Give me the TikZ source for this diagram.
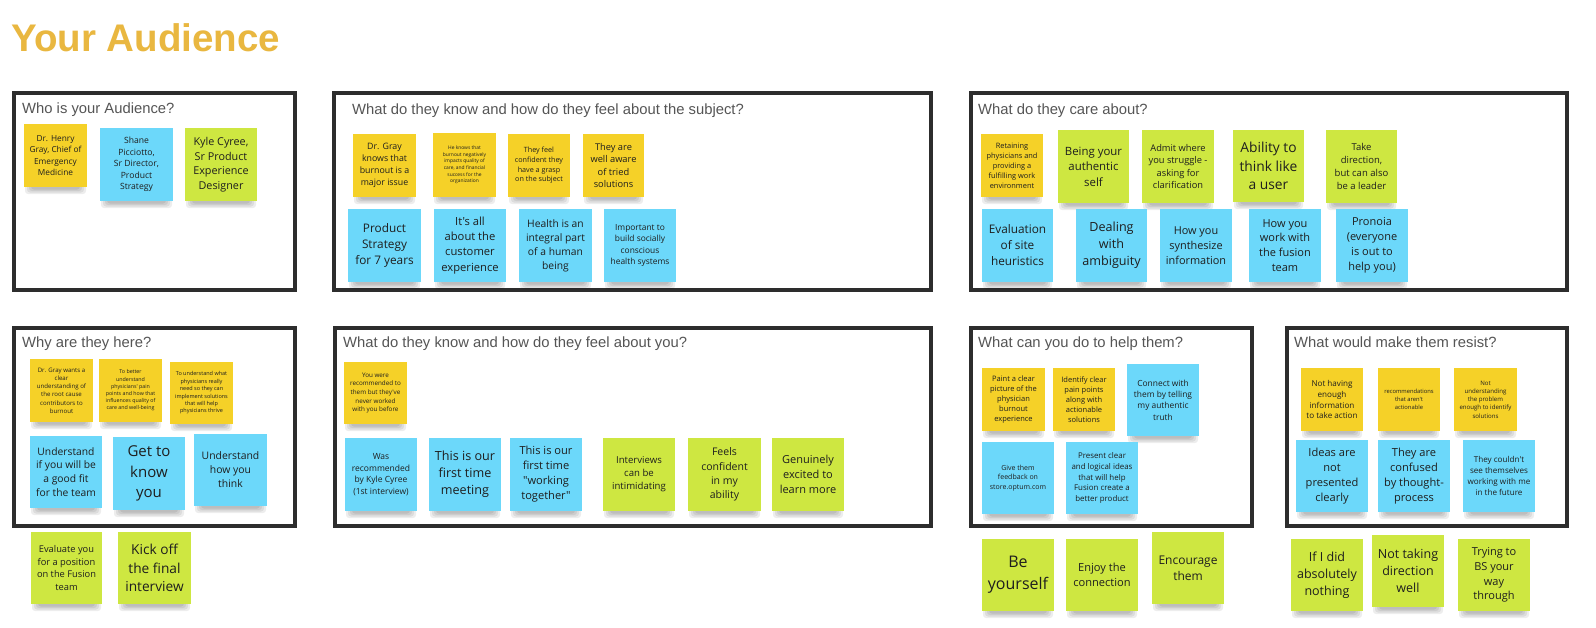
\documentclass[tikz,border=0pt]{standalone}
\usepackage{fontspec}
\setmainfont{Open Sans}[Ligatures=TeXOff]
\newfontfamily\ttlfont{Liberation Sans}
\definecolor{stY}{RGB}{245,209,40}
\definecolor{stB}{RGB}{108,216,250}
\definecolor{stG}{RGB}{206,231,65}
\definecolor{txtC}{RGB}{30,30,30}
\definecolor{frameC}{RGB}{45,45,45}
\definecolor{ftitleC}{RGB}{85,85,85}
\definecolor{mainC}{RGB}{233,183,64}
\newcommand\sfs[1]{\fontsize{#1}{\dimexpr#1pt*135/100\relax}\selectfont}
\tikzset{
  stk/.style={draw=none, inner sep=0pt, outer sep=0pt, align=center, text=txtC},
  frm/.style={draw=frameC, line width=3.2pt, inner sep=0pt, fill=none},
  ftitle/.style={anchor=base west, inner sep=0pt, text=ftitleC, font=\ttlfont\fontsize{14.8}{17}\selectfont},
}
% name, colour, x, y, w, h, font size, text
\newcommand\stk[8]{%
  \foreach \k in {0,1,2,3}{\fill[black, opacity=0.07, rounded corners=3] (#3+7-2*\k, #4+#6-8) rectangle (#3+#5-7+2*\k, #4+#6+2.5+1.5*\k);}
  \node[stk, fill=#2, minimum width=#5, minimum height=#6, font=\sfs{#7}] (#1) at (#3+#5/2, #4+#6/2) {#8};}
\begin{document}
\begin{tikzpicture}[x=1pt, y=-1pt]
\fill[white] (0,0) rectangle (1596,627);
\useasboundingbox (0,0) rectangle (1596,627);
\node[anchor=base west, inner sep=0pt, text=mainC, font=\ttlfont\bfseries\fontsize{38.5}{41}\selectfont] (title) at (11,51) {Your Audience};
% frames
\node[frm, minimum width=281, minimum height=197, anchor=center] (f1) at (14+140.5, 93+98.5) {};
\node[frm, minimum width=597, minimum height=197] (f2) at (334+298.5, 93+98.5) {};
\node[frm, minimum width=596, minimum height=197] (f3) at (971+298, 93+98.5) {};
\node[frm, minimum width=281, minimum height=198] (f4) at (14+140.5, 328+99) {};
\node[frm, minimum width=596, minimum height=198] (f5) at (335+298, 328+99) {};
\node[frm, minimum width=281, minimum height=198] (f6) at (971+140.5, 328+99) {};
\node[frm, minimum width=280, minimum height=198] (f7) at (1287+140, 328+99) {};
\node[ftitle] (t1) at (22,113) {Who is your Audience?};
\node[ftitle] (t2) at (352,114) {What do they know and how do they feel about the subject?};
\node[ftitle] (t3) at (978,114) {What do they care about?};
\node[ftitle] (t4) at (22,347) {Why are they here?};
\node[ftitle] (t5) at (343,347) {What do they know and how do they feel about you?};
\node[ftitle] (t6) at (978,347) {What can you do to help them?};
\node[ftitle] (t7) at (1294,347) {What would make them resist?};
% frame 1
\stk{a1}{stY}{24}{124}{63}{63}{8.3}{Dr. Henry\\Gray, Chief of\\Emergency\\Medicine}
\stk{a2}{stB}{100}{128}{73}{73}{8.6}{Shane\\Picciotto,\\Sr Director,\\Product\\Strategy}
\stk{a3}{stG}{185}{128}{72}{73}{10.8}{Kyle Cyree,\\Sr Product\\Experience\\Designer}
% frame 2
\stk{b1}{stY}{353}{134}{63}{63}{8.8}{Dr. Gray\\knows that\\burnout is a\\major issue}
\stk{b2}{stY}{433}{133}{63}{64}{4.9}{He knows that\\burnout negatively\\impacts quality of\\care, and financial\\success for the\\organization}
\stk{b3}{stY}{508}{134}{62}{63}{7.2}{They feel\\confident they\\have a grasp\\on the subject}
\stk{b4}{stY}{583}{134}{61}{63}{9.3}{They are\\well aware\\of tried\\solutions}
\stk{b5}{stB}{348}{209}{73}{73}{11.8}{Product\\Strategy\\for 7 years}
\stk{b6}{stB}{434}{209}{72}{73}{11.2}{It's all\\about the\\customer\\experience}
\stk{b7}{stB}{519}{209}{73}{73}{10.3}{Health is an\\integral part\\of a human\\being}
\stk{b8}{stB}{604}{209}{72}{73}{8.4}{Important to\\build socially\\conscious\\health systems}
% frame 3
\stk{c1}{stY}{981}{134}{62}{63}{7.4}{Retaining\\physicians and\\providing a\\fulfilling work\\environment}
\stk{c2}{stG}{1058}{130}{71}{73}{11.4}{Being your\\authentic\\self}
\stk{c3}{stG}{1142}{130}{72}{73}{9.3}{Admit where\\you struggle -\\asking for\\clarification}
\stk{c4}{stG}{1233}{130}{71}{72}{13.8}{Ability to\\think like\\a user}
\stk{c5}{stG}{1326}{130}{71}{73}{9.5}{Take\\direction,\\but can also\\be a leader}
\stk{c6}{stB}{982}{209}{71}{73}{11.8}{Evaluation\\of site\\heuristics}
\stk{c7}{stB}{1076}{209}{71}{73}{12.6}{Dealing\\with\\ambiguity}
\stk{c8}{stB}{1160}{209}{72}{73}{10.9}{How you\\synthesize\\information}
\stk{c9}{stB}{1249}{209}{72}{73}{11}{How you\\work with\\the fusion\\team}
\stk{c10}{stB}{1336}{209}{72}{73}{11}{Pronoia\\(everyone\\is out to\\help you)}
% frame 4
\stk{d1}{stY}{30}{359}{63}{63}{6.1}{Dr. Gray wants a\\clear\\understanding of\\the root cause\\contributors to\\burnout}
\stk{d2}{stY}{99}{359}{63}{63}{5.3}{To better\\understand\\physicians' pain\\points and how that\\influences quality of\\care and well-being}
\stk{d3}{stY}{170}{362}{63}{62}{5.5}{To understand what\\physicians really\\need so they can\\implement solutions\\that will help\\physicians thrive}
\stk{d4}{stB}{30}{436}{72}{72}{10.3}{Understand\\if you will be\\a good fit\\for the team}
\stk{d5}{stB}{113}{437}{72}{73}{15}{Get to\\know\\you}
\stk{d6}{stB}{194}{434}{73}{72}{10.4}{Understand\\how you\\think}
\stk{d7}{stG}{31}{532}{71}{72}{9.3}{Evaluate you\\for a position\\on the Fusion\\team}
\stk{d8}{stG}{118}{532}{73}{72}{13.7}{Kick off\\the final\\interview}
% frame 5
\stk{e1}{stY}{344}{362}{63}{62}{6.3}{You were\\recommended to\\them but they've\\never worked\\with you before}
\stk{e2}{stB}{345}{438}{72}{73}{8.5}{Was\\recommended\\by Kyle Cyree\\(1st interview)}
\stk{e3}{stB}{429}{438}{72}{73}{12.6}{This is our\\first time\\meeting}
\stk{e4}{stB}{510}{438}{72}{73}{11.1}{This is our\\first time\\"working\\together"}
\stk{e5}{stG}{603}{438}{72}{73}{9.6}{Interviews\\can be\\intimidating}
\stk{e6}{stG}{688}{438}{73}{73}{10.5}{Feels\\confident\\in my\\ability}
\stk{e7}{stG}{772}{438}{72}{73}{11}{Genuinely\\excited to\\learn more}
% frame 6
\stk{g1}{stY}{982}{368}{63}{63}{7.5}{Paint a clear\\picture of the\\physician\\burnout\\experience}
\stk{g2}{stY}{1053}{368}{62}{63}{7.5}{Identify clear\\pain points\\along with\\actionable\\solutions}
\stk{g3}{stB}{1127}{364}{72}{72}{8.4}{Connect with\\them by telling\\my authentic\\truth}
\stk{g4}{stB}{982}{442}{72}{72}{7}{Give them\\feedback on\\store.optum.com}
\stk{g5}{stB}{1066}{442}{72}{72}{7.9}{Present clear\\and logical ideas\\that will help\\Fusion create a\\better product}
\stk{g6}{stG}{982}{539}{72}{72}{16}{Be\\yourself}
\stk{g7}{stG}{1066}{539}{72}{72}{11.1}{Enjoy the\\connection}
\stk{g8}{stG}{1152}{532}{72}{72}{12}{Encourage\\them}
% frame 7
\stk{h1}{stY}{1301}{368}{62}{63}{8.1}{Not having\\enough\\information\\to take action}
\stk{h2}{stY}{1378}{368}{62}{63}{5.8}{recommendations\\that aren't\\actionable}
\stk{h3}{stY}{1454}{368}{63}{63}{6.1}{Not\\understanding\\the problem\\enough to identify\\solutions}
\stk{h4}{stB}{1296}{440}{72}{72}{11.1}{Ideas are\\not\\presented\\clearly}
\stk{h5}{stB}{1378}{440}{72}{72}{11.1}{They are\\confused\\by thought-\\process}
\stk{h6}{stB}{1463}{440}{72}{72}{8.1}{They couldn't\\see themselves\\working with me\\in the future}
\stk{h7}{stG}{1291}{539}{72}{72}{12.5}{If I did\\absolutely\\nothing}
\stk{h8}{stG}{1372}{535}{72}{72}{12.5}{Not taking\\direction\\well}
\stk{h9}{stG}{1458}{539}{72}{72}{11}{Trying to\\BS your\\way\\through}
\end{tikzpicture}
\end{document}
